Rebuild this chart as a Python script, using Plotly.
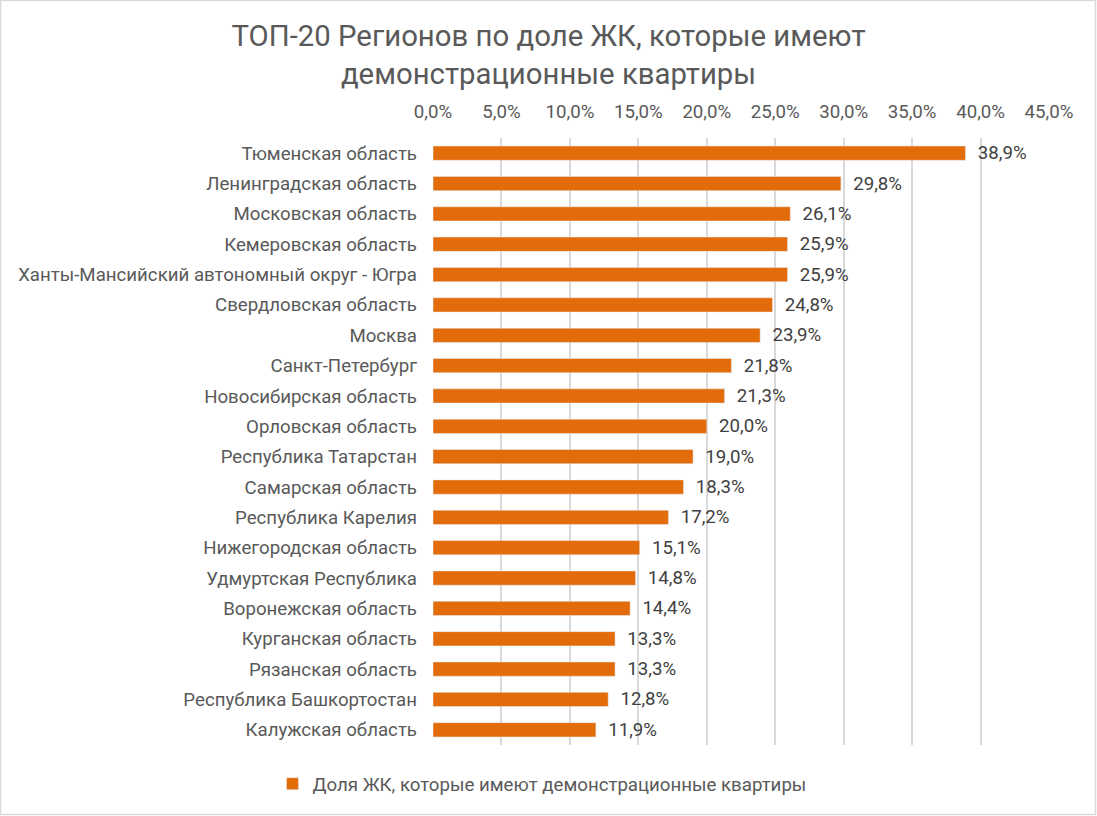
import plotly.graph_objects as go

regions = [
    "Тюменская область",
    "Ленинградская область",
    "Московская область",
    "Кемеровская область",
    "Ханты-Мансийский автономный округ - Югра",
    "Свердловская область",
    "Москва",
    "Санкт-Петербург",
    "Новосибирская область",
    "Орловская область",
    "Республика Татарстан",
    "Самарская область",
    "Республика Карелия",
    "Нижегородская область",
    "Удмуртская Республика",
    "Воронежская область",
    "Курганская область",
    "Рязанская область",
    "Республика Башкортостан",
    "Калужская область",
]
shares = [38.9, 29.8, 26.1, 25.9, 25.9, 24.8, 23.9, 21.8, 21.3, 20.0,
          19.0, 18.3, 17.2, 15.1, 14.8, 14.4, 13.3, 13.3, 12.8, 11.9]
series_name = "Доля ЖК, которые имеют демонстрационные квартиры"
title_text = "ТОП-20 Регионов по доле ЖК, которые имеют<br>демонстрационные квартиры"

W, H = 1097, 816
ml, mr, mt, mb = 433, 48, 138, 71
pw, ph = W - ml - mr, H - mt - mb
FS = 18.67
TXT = "#595959"

fig = go.Figure()
fig.add_trace(go.Bar(
    y=regions, x=shares, orientation="h", name=series_name,
    marker=dict(color="#E36C0A"),
    text=shares, texttemplate="\u00a0\u00a0%{x:.1f}%", textposition="outside",
    textfont=dict(family="Roboto", size=FS, color="#404040"),
    constraintext="none",
    cliponaxis=False,
))

fig.update_layout(
    width=W, height=H,
    margin=dict(l=ml, r=mr, t=mt, b=mb),
    paper_bgcolor="white", plot_bgcolor="white",
    separators=",.",
    font=dict(family="Roboto", size=FS, color=TXT),
    title=dict(text=title_text, x=0.5, xref="container", xanchor="center",
               y=1 - 46 / H, yref="container", yanchor="middle",
               font=dict(family="Roboto", size=29.33, color=TXT)),
    bargap=0.53,
    showlegend=True,
    legend=dict(orientation="h", x=(542 - ml) / pw, xanchor="center",
                y=-(784 - (H - mb)) / ph, yanchor="middle",
                font=dict(family="Roboto", size=FS, color=TXT)),
    xaxis=dict(side="top", range=[0, 45], dtick=5, tickformat=".1f", ticksuffix="%",
               showgrid=True, gridcolor="#D9D9D9", gridwidth=1.5, zeroline=False,
               showline=False, ticks="", ticklabelstandoff=15,
               tickfont=dict(family="Roboto", size=FS, color=TXT)),
    yaxis=dict(categoryorder="array", categoryarray=regions, autorange="reversed",
               showgrid=False, zeroline=False, showline=False, ticks="",
               ticklabelstandoff=15,
               tickfont=dict(family="Roboto", size=FS, color=TXT)),
    shapes=[dict(type="rect", xref="paper", yref="paper",
                 x0=-ml / pw + 0.5 / pw, x1=1 + (mr - 1.5) / pw,
                 y0=-(mb - 1.5) / ph, y1=1 + (mt - 0.5) / ph,
                 line=dict(color="#D9D9D9", width=1.5), layer="below")],
)

fig.write_html("out.html", config={"displayModeBar": False},
               post_script="document.body.style.margin='0';document.body.style.overflow='hidden';")
